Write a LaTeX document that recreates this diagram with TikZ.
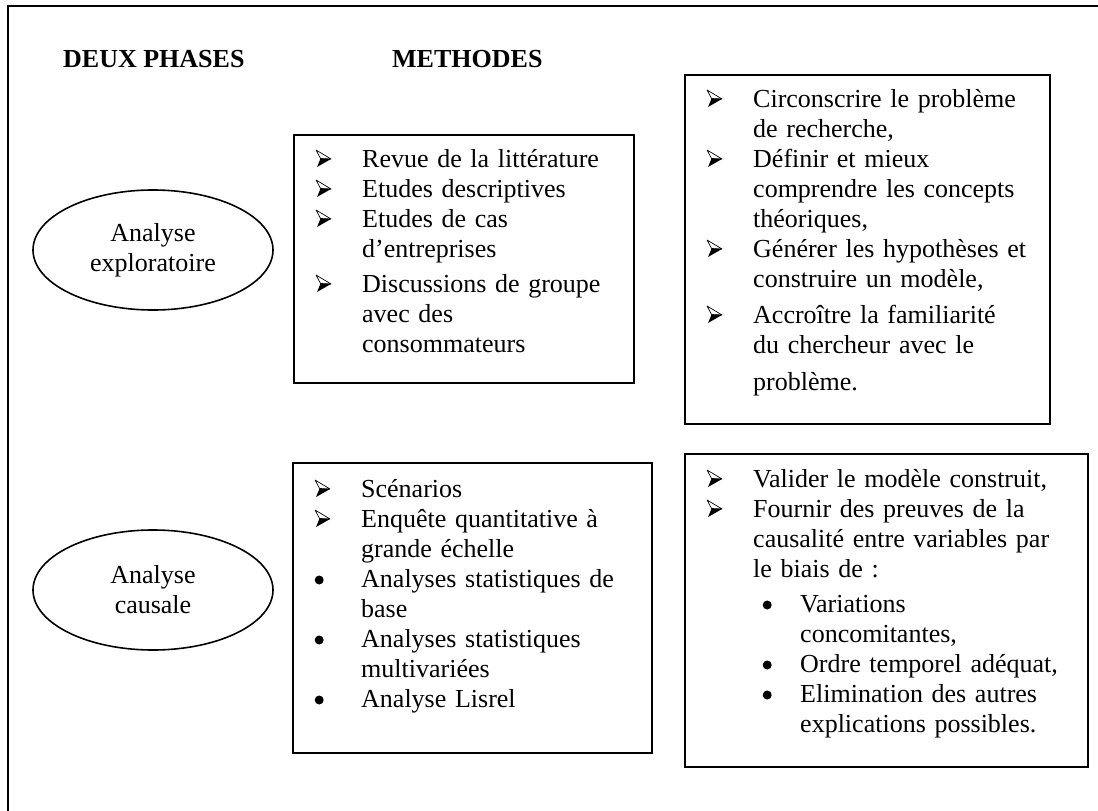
\documentclass[tikz,border=0pt]{standalone}
\usepackage{fontspec}
\setmainfont{Liberation Serif}
\usetikzlibrary{shapes.geometric}

% puces des listes
\newcommand{\fleche}{\tikz[x=1pt,y=1pt,baseline=0pt]{%
  \fill (4.5,8.5) -- (15,8) -- (1,0) -- cycle;
  \draw[line width=0.7pt, line join=round] (0,17) -- (15,8) -- (4.5,8.5) -- cycle;}}
\newcommand{\rond}{\tikz[x=1pt,y=1pt,baseline=0pt]{\fill (4.5,7) circle (4.5pt);}}
\newcommand{\itemfl}[1]{\hangindent=53pt\hangafter=1\noindent\makebox[53pt][l]{\hspace{6.5pt}\fleche}#1\par}
\newcommand{\itempt}[1]{\hangindent=53pt\hangafter=1\noindent\makebox[53pt][l]{\hspace{6.5pt}\rond}#1\par}
\newcommand{\itemsub}[1]{\hangindent=100pt\hangafter=1\noindent\makebox[100pt][l]{\hspace{62.5pt}\rond}#1\par}

\begin{document}
\begin{tikzpicture}[x=1pt, y=-1pt,
  every node/.style={font=\fontsize{26}{30}\selectfont},
  cadre/.style={draw, line width=1.6pt, anchor=north west, inner sep=0pt},
  phase/.style={draw, ellipse, line width=1.6pt, minimum width=240pt, minimum height=120pt, align=center, inner sep=0pt},
  liste/.style={anchor=base west, inner sep=0pt, align=left},
  titre/.style={font=\fontsize{26}{30}\selectfont\bfseries, anchor=base west, inner sep=0pt}]
\useasboundingbox (0,0) rectangle (1098,811);
\clip (0,0) rectangle (1098,811);
% cadre exterieur
\draw[line width=2pt] (8,830) |- (1110,6);
% en-tetes
\node[titre] (deux) at (63,67) {DEUX PHASES};
\node[titre] (meth) at (392,67) {METHODES};
% phases
\node[phase] (explo) at (153,250) {Analyse\\exploratoire};
\node[phase] (causal) at (153,590) {Analyse\\causale};
% cadres
\node[cadre, minimum width=340pt, minimum height=248pt] (methExpl) at (293,134) {};
\node[cadre, minimum width=365pt, minimum height=349pt] (butExpl) at (684,74) {};
\node[cadre, minimum width=359pt, minimum height=290pt] (methCaus) at (292,462) {};
\node[cadre, minimum width=403pt, minimum height=313pt] (butCaus) at (684,453) {};
% listes
\node[liste, text width=320pt] (txtMethExpl) at (309,167) {%
  \itemfl{Revue de la littérature}
  \itemfl{Etudes descriptives}
  \itemfl{Etudes de cas\newline d’entreprises}
  \vspace{5pt}
  \itemfl{Discussions de groupe\newline avec des\newline consommateurs}};
\node[liste, text width=345pt] (txtButExpl) at (700,107) {%
  \itemfl{Circonscrire le problème\newline de recherche,}
  \itemfl{Définir et mieux\newline comprendre les concepts\newline théoriques,}
  \itemfl{Générer les hypothèses et\newline construire un modèle,}
  \vspace{6pt}
  \itemfl{Accroître la familiarité\newline du chercheur avec le\newline \rule{0pt}{36pt}problème.}};
\node[liste, text width=340pt] (txtMethCaus) at (308,497) {%
  \itemfl{Scénarios}
  \itemfl{Enquête quantitative à\newline grande échelle}
  \itempt{Analyses statistiques de\newline base}
  \itempt{Analyses statistiques\newline multivariées}
  \itempt{Analyse Lisrel}};
\node[liste, text width=380pt] (txtButCaus) at (700,487) {%
  \itemfl{Valider le modèle construit,}
  \itemfl{Fournir des preuves de la\newline causalité entre variables par\newline le biais de :}
  \vspace{5pt}
  \itemsub{Variations\newline concomitantes,}
  \itemsub{Ordre temporel adéquat,}
  \itemsub{Elimination des autres\newline explications possibles.}};
\end{tikzpicture}
\end{document}
